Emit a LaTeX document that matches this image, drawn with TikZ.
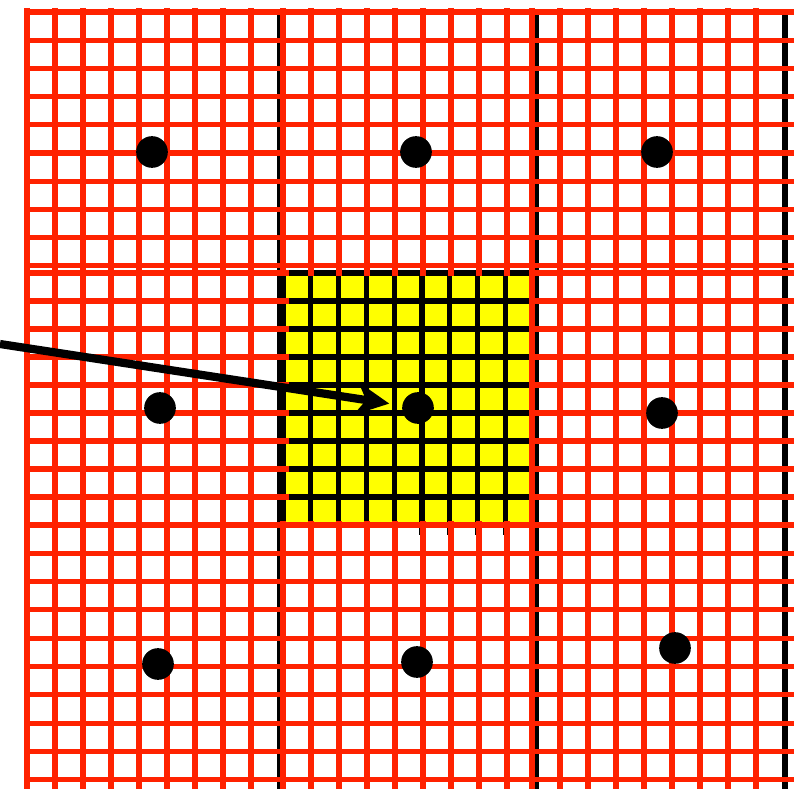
\documentclass[tikz,border=0pt]{standalone}
\usepackage{tikz}
\usepackage{xcolor}
\usetikzlibrary{arrows.meta,positioning,calc}
\definecolor{gridred}{RGB}{255,34,0}
\definecolor{tileyellow}{RGB}{255,255,0}

\begin{document}
\begin{tikzpicture}[x=0.03cm, y=-0.03cm,
    redline/.style={draw=gridred, line width=4.3pt},
    blackline/.style={draw=black, line width=4.5pt},
    seed/.style={circle, fill=black, inner sep=0pt, minimum size=0.95cm},
    pointer/.style={-{Stealth[length=1.0cm, width=0.98cm, inset=0.3cm]}, line width=7pt, shorten >=0.39cm}]
    \useasboundingbox (0,0) rectangle (812,789);

    % Tile boundaries
    \foreach \bx in {280,536,785}
        \draw[blackline] (\bx,10) -- (\bx,789);

    % Centre tile
    \fill[tileyellow] (283,273) rectangle (533,525);
    \foreach \k in {0,...,9} {
        \draw[blackline] ({283+27.8*\k},271) -- ({283+27.8*\k},535);
        \draw[blackline] (281,{273+28*\k}) -- (545,{273+28*\k});
    }

    % Outer tiles: x0/y0/cell height
    \foreach \tx/\ty/\ch in {27/12/28.2, 283/12/28.2, 532/12/28.2, 27/273/28, 532/273/28, 27/525/28.3, 283/525/28.3, 532/525/28.3} {
        \foreach \k in {0,...,8}
            \draw[redline] ({\tx+28*\k},{\ty-4}) -- ({\tx+28*\k},{\ty+9*\ch+10});
        \foreach \k in {0,...,9}
            \draw[redline] ({\tx-2},{\ty+\ch*\k}) -- ({\tx+262},{\ty+\ch*\k});
    }

    % Seed points
    \node[seed] (p11) at (152,152) {};
    \node[seed] (p12) at (416,152) {};
    \node[seed] (p13) at (657,152) {};
    \node[seed] (p21) at (160,408) {};
    \node[seed] (p22) at (418,408) {};
    \node[seed] (p23) at (662,413) {};
    \node[seed] (p31) at (158,664) {};
    \node[seed] (p32) at (417,662) {};
    \node[seed] (p33) at (675,648) {};

    % Pointer
    \coordinate (src) at (0,344);
    \draw[pointer] (src) -- (p22);
\end{tikzpicture}
\end{document}
